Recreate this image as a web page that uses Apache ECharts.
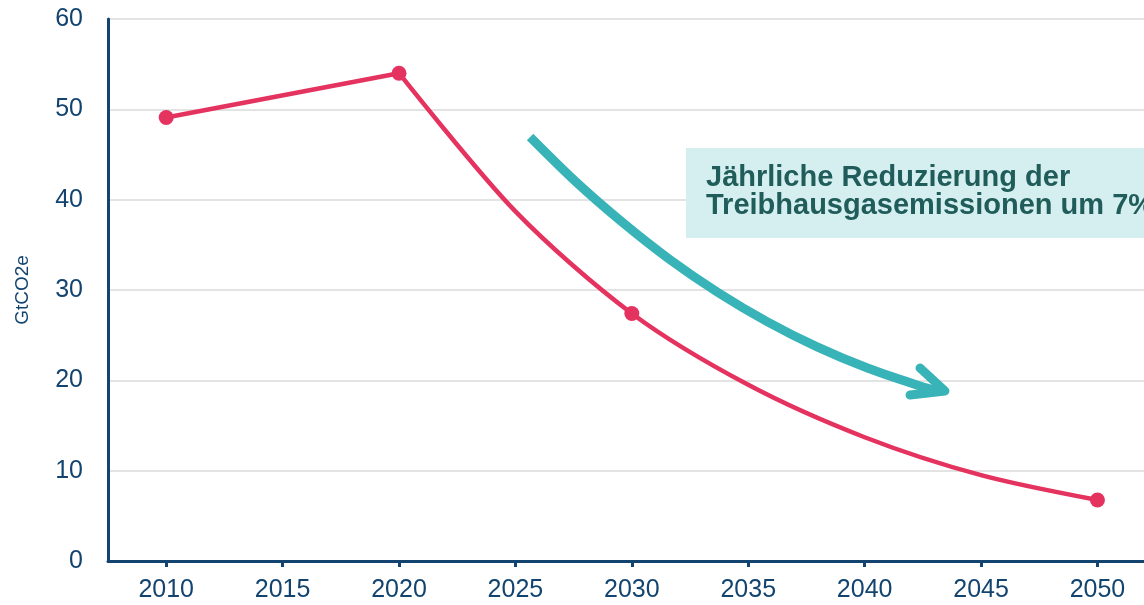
<!DOCTYPE html>
<html>
<head>
<meta charset="utf-8">
<script src="https://cdn.jsdelivr.net/npm/echarts@6/dist/echarts.min.js"></script>
<style>
    html, body { margin: 0; padding: 0; background: #fff; }
    #main { width: 1144px; height: 605px; }
</style>
</head>
<body>
<div id="main"></div>
<script>
    // tick labels on the x axis
    var xTicks = [2010, 2015, 2020, 2025, 2030, 2035, 2040, 2045, 2050];

    // 2010 -> 2020, straight segment
    var riseYears = [2010, 2020];
    var riseValues = [49.1, 54.0];

    // 2020 -> 2050, curved decline
    var fallYears = [2020, 2025, 2030, 2035, 2040, 2045, 2050];
    var fallValues = [54.0, 38.7, 27.4, 19.5, 13.7, 9.5, 6.75];

    // points with a dot
    var dotYears = [2010, 2020, 2030, 2050];
    var dotValues = [49.1, 54.0, 27.4, 6.75];

    // teal arrow (shaft + head), in year / GtCO2e units
    var arrowYears = [2025.63, 2027.59, 2029.58, 2031.62, 2033.70, 2035.81, 2037.96, 2040.15, 2042.38, 2043.15];
    var arrowValues = [46.94, 42.0, 37.53, 33.4, 29.73, 26.5, 23.7, 21.33, 19.37, 18.82];
    var headYears = [2042.38, 2043.45, 2041.95];
    var headValues = [21.36, 18.82, 18.38];

    var boxText = 'Jährliche Reduzierung der\nTreibhausgasemissionen um 7%';

    function pairs(xs, ys) {
        var out = [];
        for (var i = 0; i < xs.length; i++) {
            out.push([xs[i], ys[i]]);
        }
        return out;
    }

    var navy = '#12446f';
    var red = '#e5335f';
    var teal = '#38b3b7';
    var font = 'Liberation Sans, Arial, sans-serif';

    var chart = echarts.init(document.getElementById('main'));
    var option = {
        animation: false,
        grid: {
            left: 108,
            right: 0,
            top: 19,
            bottom: 44
        },
        xAxis: {
            type: 'value',
            min: 2007.5,
            max: 2052,
            axisLine: { show: true, lineStyle: { color: navy, width: 3 } },
            axisTick: {
                show: true,
                length: 6,
                customValues: xTicks,
                lineStyle: { color: navy, width: 3 }
            },
            axisLabel: {
                customValues: xTicks,
                margin: 17,
                color: navy,
                fontSize: 25,
                fontFamily: font,
                formatter: function (v) {
                    return String(v);
                }
            },
            splitLine: { show: false }
        },
        yAxis: {
            type: 'value',
            min: 0,
            max: 60,
            interval: 10,
            name: 'GtCO2e',
            nameLocation: 'middle',
            nameGap: 76,
            nameRotate: 90,
            nameTextStyle: { color: navy, fontSize: 19, fontFamily: font },
            axisLine: { show: true, lineStyle: { color: navy, width: 3 } },
            axisTick: { show: false },
            axisLabel: {
                margin: 25,
                color: navy,
                fontSize: 25,
                fontFamily: font
            },
            splitLine: { show: true, lineStyle: { color: '#e3e3e3', width: 2 } }
        },
        graphic: [
            {
                type: 'rect',
                shape: { x: 686, y: 148, width: 500, height: 90 },
                style: { fill: '#d5eff0' },
                z: 1
            },
            {
                type: 'text',
                x: 706,
                y: 164,
                z: 2,
                style: {
                    text: boxText,
                    fill: '#1f5c5a',
                    font: 'bold 29px ' + font,
                    lineHeight: 28
                }
            }
        ],
        series: [
            {
                type: 'line',
                data: pairs(riseYears, riseValues),
                showSymbol: false,
                lineStyle: { color: red, width: 4.5 },
                z: 3
            },
            {
                type: 'line',
                data: pairs(fallYears, fallValues),
                smooth: 0.3,
                showSymbol: false,
                lineStyle: { color: red, width: 4.5 },
                z: 3
            },
            {
                type: 'scatter',
                data: pairs(dotYears, dotValues),
                symbolSize: 15,
                itemStyle: { color: red, opacity: 1 },
                z: 4
            },
            {
                type: 'line',
                data: pairs(arrowYears, arrowValues),
                smooth: 0.3,
                showSymbol: false,
                lineStyle: { color: teal, width: 9, cap: 'butt' },
                z: 3
            },
            {
                type: 'line',
                data: pairs(headYears, headValues),
                showSymbol: false,
                lineStyle: { color: teal, width: 9, cap: 'round', join: 'round' },
                z: 3
            }
        ]
    };
    chart.setOption(option, true);
</script>
</body>
</html>
